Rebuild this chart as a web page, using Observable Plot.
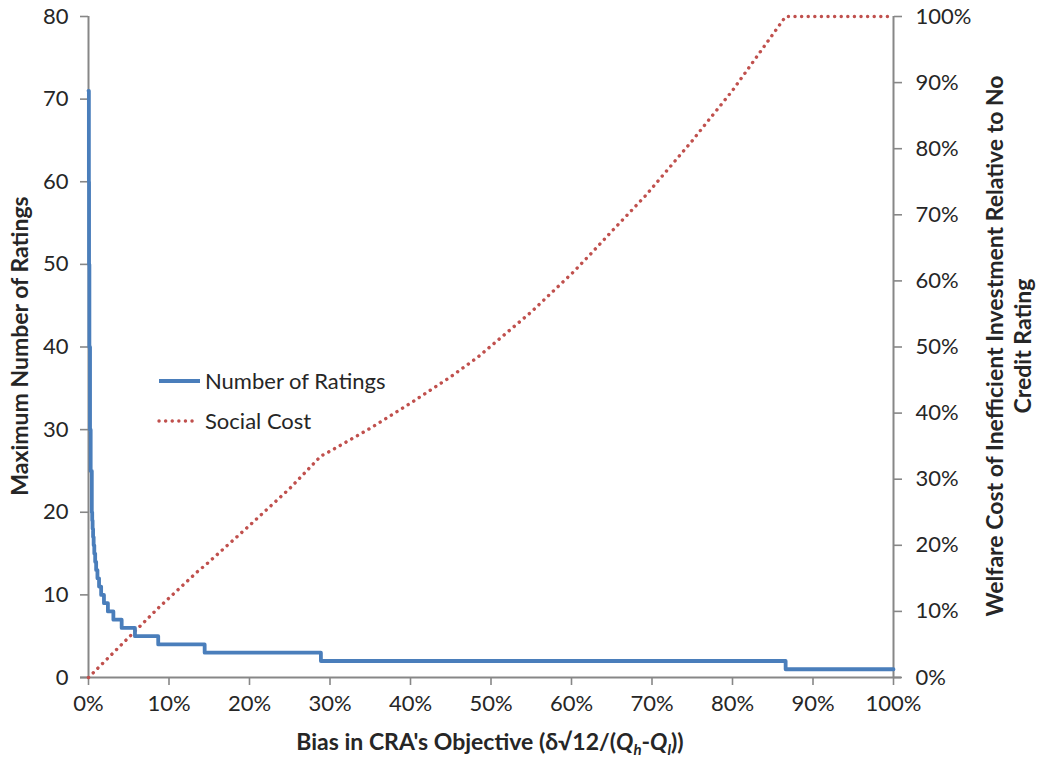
<!DOCTYPE html>
<html><head><meta charset="utf-8">
<script src="https://cdn.jsdelivr.net/npm/d3@7"></script>
<script src="https://cdn.jsdelivr.net/npm/@observablehq/plot@0.6"></script>
<style>
body{margin:0;background:#fff;}
#chart{position:relative;width:1041px;height:757px;}
</style>
</head><body><div id="chart"></div>
<script>
// Number of ratings: step thresholds (bias where count begins) and counts
const ratingBias  = [0, 0.00047, 0.00068, 0.0011, 0.0019, 0.0027, 0.0041, 0.0046, 0.0051, 0.0057, 0.0064, 0.0072, 0.0083, 0.0095, 0.0111, 0.0131, 0.0157, 0.0192, 0.0241, 0.0309, 0.0412, 0.0577, 0.0866, 0.1443, 0.2887, 0.8660, 1.0];
const ratingCount = [71, 60, 50, 40, 30, 25, 20, 19, 18, 17, 16, 15, 14, 13, 12, 11, 10, 9, 8, 7, 6, 5, 4, 3, 2, 1, 1];
// Social cost (share of welfare cost)
const costBias  = [0, 0.0577, 0.0866, 0.137, 0.1443, 0.20, 0.25, 0.2887, 0.301, 0.35, 0.40, 0.45, 0.483, 0.55, 0.602, 0.624, 0.65, 0.692, 0.75, 0.763, 0.80, 0.866, 0.90, 1.0];
const costShare = [0, 0.07, 0.105, 0.162, 0.169, 0.23, 0.286, 0.335, 0.343, 0.377, 0.415, 0.455, 0.484, 0.553, 0.613, 0.641, 0.675, 0.729, 0.812, 0.832, 0.888, 1.0, 1.0, 1.0];
const xTicks = [0, 0.1, 0.2, 0.3, 0.4, 0.5, 0.6, 0.7, 0.8, 0.9, 1.0];
const leftTicks = [0, 10, 20, 30, 40, 50, 60, 70, 80];
const rightTicks = [0, 0.1, 0.2, 0.3, 0.4, 0.5, 0.6, 0.7, 0.8, 0.9, 1.0];
const seriesNames = ["Number of Ratings", "Social Cost"];

const W = 1041, H = 757, ML = 88, MR = 148, MT = 16, MB = 80;
const LEFT_MAX = 80;
const ratings = ratingBias.map((b, i) => ({bias: b, n: ratingCount[i]}));
const costs = costBias.map((b, i) => ({bias: b, c: costShare[i]}));
const pct = d => Math.round(d * 100) + "%";
const axisColor = "#878787";
const blue = "#4a7ebb", red = "#c0504d";
const font = "Lato, 'Open Sans', sans-serif";
const txt = "#262626";

const plot = Plot.plot({
  width: W, height: H,
  marginLeft: ML, marginRight: MR, marginTop: MT, marginBottom: MB,
  style: {fontFamily: font, fontSize: "22px", color: txt, background: "#fff", overflow: "visible"},
  x: {domain: [0, 1]},
  y: {domain: [0, LEFT_MAX]},
  marks: [
    Plot.axisX(xTicks, {tickFormat: pct, tickSize: 8, tickPadding: 10, stroke: axisColor, strokeWidth: 1.6, strokeOpacity: 1, label: null, fill: txt}),
    Plot.axisY(leftTicks, {anchor: "left", tickSize: 8, tickPadding: 12, stroke: axisColor, strokeWidth: 1.6, strokeOpacity: 1, label: null, fill: txt}),
    Plot.axisY(rightTicks.map(t => t * LEFT_MAX), {anchor: "right", tickFormat: d => pct(d / LEFT_MAX), tickSize: 8, tickPadding: 14, stroke: axisColor, strokeWidth: 1.6, strokeOpacity: 1, label: null, fill: txt}),
    Plot.ruleY([0], {stroke: axisColor, strokeWidth: 2, insetLeft: -8, insetRight: -8}),
    Plot.ruleX([0], {stroke: axisColor, strokeWidth: 2}),
    Plot.ruleX([1], {stroke: axisColor, strokeWidth: 2}),
    Plot.line(costs, {x: "bias", y: d => d.c * LEFT_MAX, stroke: red, strokeWidth: 3.4, strokeDasharray: "0.1,6.5", strokeLinecap: "round"}),
    Plot.line(ratings, {x: "bias", y: "n", curve: "step-after", stroke: blue, strokeWidth: 3.8})
  ]
});

document.getElementById("chart").appendChild(plot);
const svg = d3.select(plot);

// Legend
const lg = svg.append("g").attr("font-family", font).attr("font-size", 22).attr("fill", txt).attr("text-anchor", "start");
lg.append("line").attr("x1", 159).attr("x2", 200).attr("y1", 381).attr("y2", 381).attr("stroke", blue).attr("stroke-width", 3.8);
lg.append("text").attr("x", 205).attr("y", 381).attr("dy", "0.35em").text(seriesNames[0]);
lg.append("line").attr("x1", 159).attr("x2", 198).attr("y1", 421).attr("y2", 421).attr("stroke", red).attr("stroke-width", 3.4)
  .attr("stroke-dasharray", "0.1,6.5").attr("stroke-linecap", "round");
lg.append("text").attr("x", 205).attr("y", 421).attr("dy", "0.35em").text(seriesNames[1]);

// Axis titles
const tg = svg.append("g").attr("font-family", font).attr("font-size", 23).attr("font-weight", "bold").attr("fill", txt).attr("text-anchor", "middle");
tg.append("text").attr("transform", "translate(20,346) rotate(-90)").attr("dy", "0.35em").text("Maximum Number of Ratings");
tg.append("text").attr("transform", "translate(995,346) rotate(-90)").attr("dy", "0.35em").text("Welfare Cost of Inefficient Investment Relative to No");
tg.append("text").attr("transform", "translate(1023,346) rotate(-90)").attr("dy", "0.35em").text("Credit Rating");
const xt = tg.append("text").attr("x", 490).attr("y", 750);
xt.append("tspan").text("Bias in CRA's Objective (δ√12/(");
xt.append("tspan").attr("font-style", "italic").text("Q");
xt.append("tspan").attr("font-size", 15).attr("font-style", "italic").attr("dy", 5).text("h");
xt.append("tspan").attr("dy", -5).text("-");
xt.append("tspan").attr("font-style", "italic").text("Q");
xt.append("tspan").attr("font-size", 15).attr("font-style", "italic").attr("dy", 5).text("l");
xt.append("tspan").attr("dy", -5).text("))");
</script>
</body></html>
